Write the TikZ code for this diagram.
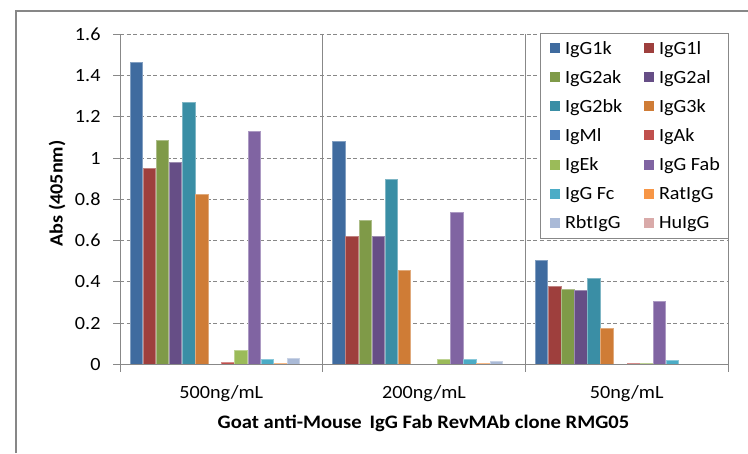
\documentclass[tikz,border=0pt]{standalone}
\usepackage{fontspec}
\setmainfont{Carlito}[FakeStretch=1.08]
\definecolor{ser1}{HTML}{3F6B9F}
\definecolor{ser2}{HTML}{9E3F3D}
\definecolor{ser3}{HTML}{7F9A48}
\definecolor{ser4}{HTML}{664E86}
\definecolor{ser5}{HTML}{3A8EA5}
\definecolor{ser6}{HTML}{CF7C36}
\definecolor{ser7}{HTML}{4F81BD}
\definecolor{ser8}{HTML}{C0504D}
\definecolor{ser9}{HTML}{9BBB59}
\definecolor{ser10}{HTML}{8064A2}
\definecolor{ser11}{HTML}{4BACC6}
\definecolor{ser12}{HTML}{F79646}
\definecolor{ser13}{HTML}{AABAD7}
\definecolor{ser14}{HTML}{D9AAA9}
\definecolor{axisgrey}{HTML}{888888}
\definecolor{framegrey}{HTML}{878787}
\begin{document}
\begin{tikzpicture}[x=0.75pt,y=-0.75pt,
  every node/.style={inner sep=0pt,outer sep=0pt,font=\fontsize{14}{16}\selectfont},
  gridline/.style={axisgrey,line width=0.75pt,dash pattern=on 3pt off 2pt},
  axisline/.style={axisgrey,line width=0.75pt},
  frameline/.style={framegrey,line width=1.6pt},
  ticklab/.style={anchor=base east},
  catlab/.style={anchor=base},
  legtext/.style={anchor=base west},
  swatch/.style={minimum size=7.5pt,inner sep=0pt}]
\useasboundingbox (0,0) rectangle (748,453);
% outer chart frame
\draw[frameline] (16,453) -- (16,11) -- (748,11);
% gridlines
\foreach \k in {1,...,8}{
  \draw[gridline] (120,{364.3-41.25*\k}) -- (728,{364.3-41.25*\k});
}
% bars
\foreach \c/\vals in {0/{1.466,0.952,1.088,0.981,1.272,0.826,0,0.011,0.069,1.131,0.026,0.006,0.031,0},
                      1/{1.083,0.622,0.700,0.622,0.898,0.457,0,0,0.026,0.738,0.026,0.006,0.016,0},
                      2/{0.506,0.380,0.365,0.360,0.419,0.176,0,0.006,0.005,0.307,0.021,0,0,0}}{
  \foreach \v [count=\i from 0] in \vals {
    \pgfmathsetmacro\xl{120+\c*202.667+9.63+\i*13.1}
    \pgfmathsetmacro\yt{364.3-206.25*\v}
    \pgfmathtruncatemacro\ci{\i+1}
    \ifdim \v pt > 0pt
      \filldraw[fill=ser\ci,draw=ser\ci!65!white,line width=0.45pt] ({\xl+0.3},364.3) rectangle ({\xl+12.8},\yt);
    \fi
  }
}
% axes, category dividers, ticks
\foreach \xx in {120,322.667,525.333,728}{
  \draw[axisline] (\xx,34) -- (\xx,372);
}
\draw[axisline] (113,364.3) -- (728,364.3);
\foreach \k in {1,...,8}{
  \draw[axisline] (113,{364.3-41.25*\k}) -- (120,{364.3-41.25*\k});
}
% tick labels
\foreach \k/\lab in {0/0,1/0.2,2/0.4,3/0.6,4/0.8,5/1,6/1.2,7/1.4,8/1.6}{
  \node[ticklab] (tick\k) at (100.5,{370.3-41.25*\k}) {\lab};
}
% category labels
\node[catlab] (cat1) at (221.3,398.5) {500ng/mL};
\node[catlab] (cat2) at (424,398.5) {200ng/mL};
\node[catlab] (cat3) at (626.7,398.5) {50ng/mL};
% axis titles
\node[anchor=base, font=\fontsize{14.3}{16}\selectfont\bfseries] (xtitle) at (423.5,428.3) {Goat anti-Mouse\, IgG Fab RevMAb clone RMG05};
\node[rotate=90, anchor=base, font=\fontsize{14}{16}\selectfont\bfseries] (ytitle) at (62.5,193.5) {Abs (405nm)};
% legend
\draw[axisgrey,line width=0.75pt,fill=white] (540.7,33.3) rectangle (728.3,238.3);
\foreach \n/\lab [count=\j from 0] in {1/IgG1k,2/IgG1l,3/IgG2ak,4/IgG2al,5/IgG2bk,6/IgG3k,7/IgMl,8/IgAk,9/IgEk,10/IgG Fab,11/IgG Fc,12/RatIgG,13/RbtIgG,14/HuIgG}{
  \pgfmathtruncatemacro\row{int(\j/2)}
  \pgfmathtruncatemacro\col{mod(\j,2)}
  \pgfmathsetmacro\sx{554.7+94*\col}
  \pgfmathsetmacro\sy{48.3+29.05*\row}
  \node[swatch,fill=ser\n] (sw\n) at (\sx,\sy) {};
  \node[legtext] (lg\n) at ({\sx+10.3},{\sy+6}) {\lab};
}
\end{tikzpicture}
\end{document}
